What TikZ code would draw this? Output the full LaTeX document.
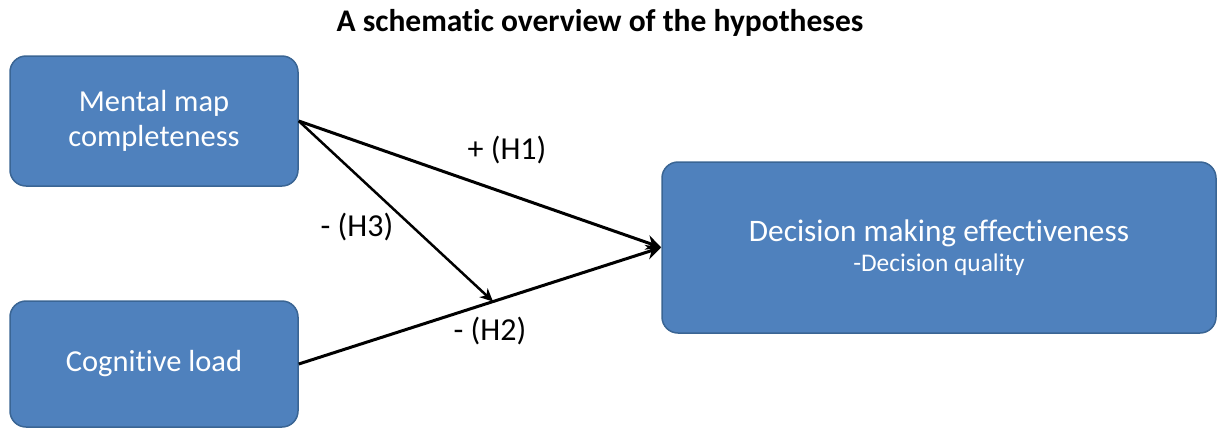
\documentclass[tikz,border=0pt]{standalone}
\usepackage{fontspec}
\setmainfont[Ligatures=NoCommon]{Carlito}
\usetikzlibrary{calc,arrows.meta}
\definecolor{boxfill}{HTML}{4F81BD}
\definecolor{boxline}{HTML}{3A6594}
\begin{document}
\begin{tikzpicture}[x=1pt,y=-1pt,
  bluebox/.style={draw=boxline,fill=boxfill,line width=1.5pt,rounded corners=16pt,
    text=white,align=center,inner sep=0pt},
  conn/.style={line width=3pt,-{Stealth[length=15pt,width=15pt,inset=5pt]}},
  lab/.style={font=\fontsize{32}{36}\selectfont,inner sep=0pt}]
\useasboundingbox (0,0) rectangle (1220,429);
\node[font=\bfseries\fontsize{31.5}{36}\selectfont] (title) at (600,23) {A schematic overview of the hypotheses};
\node[bluebox,minimum width=288pt,minimum height=130pt,font=\fontsize{30.5}{35}\selectfont] (mm) at (154,121) {Mental map\\completeness};
\node[bluebox,minimum width=288pt,minimum height=126pt,font=\fontsize{30.5}{35}\selectfont] (cl) at (154,364) {Cognitive load};
\node[bluebox,minimum width=554pt,minimum height=171pt] (dec) at (939,247.5)
  {{\fontsize{31.3}{34}\selectfont Decision making effectiveness}\\[6pt]{\fontsize{25.4}{28}\selectfont -Decision quality}};
\coordinate (mid) at ($(cl.east)!0.536!(dec.west)$);
\draw[conn] (mm.east) -- (dec.west);
\draw[conn] (cl.east) -- (dec.west);
\draw[line width=2.5pt,-{Stealth[length=13pt,width=12pt,inset=4pt]}] (mm.east) -- (mid);
\node[lab] (h1) at (507,150) {+ (H1)};
\node[lab] (h3) at (357,227) {- (H3)};
\node[lab] (h2) at (490,331) {- (H2)};
\end{tikzpicture}
\end{document}
